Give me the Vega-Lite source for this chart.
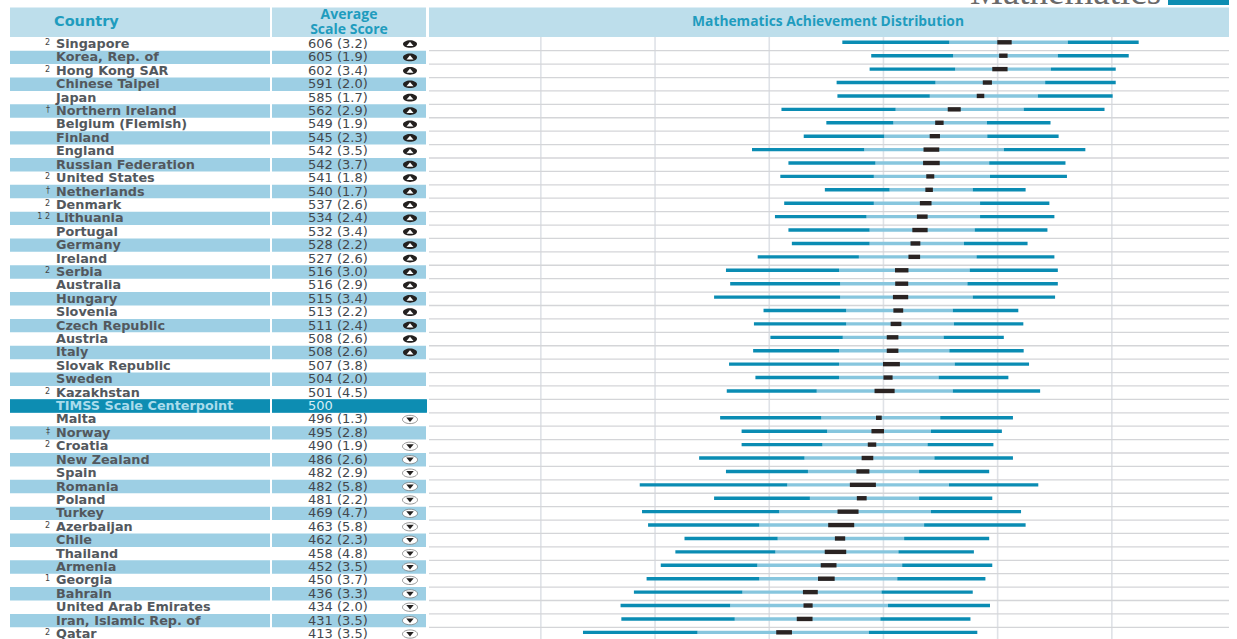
{
"$schema":"https://vega.github.io/schema/vega-lite/v6.json",
"width":1237,"height":639,"autosize":"none","padding":0,"background":"white",
"config":{"view":{"stroke":null},"axis":{"disable":true},"legend":{"disable":true}},
"datasets":{"rows":[
{"rank":0,"country":"Singapore","note":"2","score":"606 (3.2)","arrow":"up","p5":464,"p25":557.7,"lo":599.7,"hi":612.3,"p75":661.4,"p95":723.5},
{"rank":1,"country":"Korea, Rep. of","note":"","score":"605 (1.9)","arrow":"up","p5":489.3,"p25":561,"lo":601.3,"hi":608.7,"p75":652.7,"p95":714.8},
{"rank":2,"country":"Hong Kong SAR","note":"2","score":"602 (3.4)","arrow":"up","p5":487.9,"p25":562.8,"lo":595.3,"hi":608.7,"p75":646.6,"p95":703.4},
{"rank":3,"country":"Chinese Taipei","note":"","score":"591 (2.0)","arrow":"up","p5":459,"p25":545.6,"lo":587,"hi":595,"p75":641.6,"p95":703.4},
{"rank":4,"country":"Japan","note":"","score":"585 (1.7)","arrow":"up","p5":459.7,"p25":540.6,"lo":581.7,"hi":588.3,"p75":635.2,"p95":700.7},
{"rank":5,"country":"Northern Ireland","note":"†","score":"562 (2.9)","arrow":"up","p5":410.7,"p25":510.7,"lo":556.3,"hi":567.7,"p75":622.8,"p95":693.6},
{"rank":6,"country":"Belgium (Flemish)","note":"","score":"549 (1.9)","arrow":"up","p5":450,"p25":508.7,"lo":545.3,"hi":552.7,"p75":590.6,"p95":646.3},
{"rank":7,"country":"Finland","note":"","score":"545 (2.3)","arrow":"up","p5":430.2,"p25":500.7,"lo":540.5,"hi":549.5,"p75":590.9,"p95":653.4},
{"rank":8,"country":"England","note":"","score":"542 (3.5)","arrow":"up","p5":384.9,"p25":483.2,"lo":535.1,"hi":548.9,"p75":605.4,"p95":676.8},
{"rank":9,"country":"Russian Federation","note":"","score":"542 (3.7)","arrow":"up","p5":416.8,"p25":493,"lo":534.7,"hi":549.3,"p75":592.6,"p95":659.4},
{"rank":10,"country":"United States","note":"2","score":"541 (1.8)","arrow":"up","p5":409.7,"p25":491.6,"lo":537.5,"hi":544.5,"p75":593.3,"p95":660.7},
{"rank":11,"country":"Netherlands","note":"†","score":"540 (1.7)","arrow":"up","p5":448.7,"p25":505.4,"lo":536.7,"hi":543.3,"p75":578.2,"p95":624.5},
{"rank":12,"country":"Denmark","note":"2","score":"537 (2.6)","arrow":"up","p5":413.1,"p25":491.6,"lo":531.9,"hi":542.1,"p75":584.6,"p95":645.3},
{"rank":13,"country":"Lithuania","note":"1 2","score":"534 (2.4)","arrow":"up","p5":405,"p25":485.2,"lo":529.3,"hi":538.7,"p75":584.6,"p95":649.7},
{"rank":14,"country":"Portugal","note":"","score":"532 (3.4)","arrow":"up","p5":416.8,"p25":487.9,"lo":525.3,"hi":538.7,"p75":579.9,"p95":643.6},
{"rank":15,"country":"Germany","note":"","score":"528 (2.2)","arrow":"up","p5":419.8,"p25":487.9,"lo":523.7,"hi":532.3,"p75":570.5,"p95":626.2},
{"rank":16,"country":"Ireland","note":"","score":"527 (2.6)","arrow":"up","p5":389.9,"p25":478.5,"lo":521.9,"hi":532.1,"p75":581.5,"p95":649.7},
{"rank":17,"country":"Serbia","note":"2","score":"516 (3.0)","arrow":"up","p5":362.1,"p25":461.1,"lo":510.1,"hi":521.9,"p75":575.5,"p95":652.7},
{"rank":18,"country":"Australia","note":"","score":"516 (2.9)","arrow":"up","p5":365.8,"p25":462.1,"lo":510.3,"hi":521.7,"p75":573.5,"p95":652.7},
{"rank":19,"country":"Hungary","note":"","score":"515 (3.4)","arrow":"up","p5":351.7,"p25":462.1,"lo":508.3,"hi":521.7,"p75":578.2,"p95":650.3},
{"rank":20,"country":"Slovenia","note":"","score":"513 (2.2)","arrow":"up","p5":395,"p25":467.4,"lo":508.7,"hi":517.3,"p75":560.7,"p95":618.1},
{"rank":21,"country":"Czech Republic","note":"","score":"511 (2.4)","arrow":"up","p5":386.6,"p25":467.4,"lo":506.3,"hi":515.7,"p75":561.7,"p95":622.5},
{"rank":22,"country":"Austria","note":"","score":"508 (2.6)","arrow":"up","p5":401,"p25":464.4,"lo":502.9,"hi":513.1,"p75":552.7,"p95":605.4},
{"rank":23,"country":"Italy","note":"","score":"508 (2.6)","arrow":"up","p5":385.9,"p25":461.1,"lo":502.9,"hi":513.1,"p75":557.7,"p95":622.8},
{"rank":24,"country":"Slovak Republic","note":"","score":"507 (3.8)","arrow":"none","p5":364.8,"p25":461.1,"lo":499.6,"hi":514.4,"p75":562.4,"p95":627.5},
{"rank":25,"country":"Sweden","note":"","score":"504 (2.0)","arrow":"none","p5":387.9,"p25":461.1,"lo":500,"hi":508,"p75":548.3,"p95":609.4},
{"rank":26,"country":"Kazakhstan","note":"2","score":"501 (4.5)","arrow":"none","p5":362.8,"p25":441.6,"lo":492.2,"hi":509.8,"p75":560.7,"p95":637.2},
{"rank":27,"country":"TIMSS Scale Centerpoint","note":"","score":"500","arrow":"none"},
{"rank":28,"country":"Malta","note":"","score":"496 (1.3)","arrow":"down","p5":357,"p25":445.6,"lo":493.5,"hi":498.5,"p75":549.7,"p95":613.4},
{"rank":29,"country":"Norway","note":"‡","score":"495 (2.8)","arrow":"none","p5":375.8,"p25":450.7,"lo":489.5,"hi":500.5,"p75":541.6,"p95":603.7},
{"rank":30,"country":"Croatia","note":"2","score":"490 (1.9)","arrow":"down","p5":375.8,"p25":446.6,"lo":486.3,"hi":493.7,"p75":538.6,"p95":596.3},
{"rank":31,"country":"New Zealand","note":"","score":"486 (2.6)","arrow":"down","p5":338.6,"p25":430.9,"lo":480.9,"hi":491.1,"p75":544.6,"p95":613.4},
{"rank":32,"country":"Spain","note":"","score":"482 (2.9)","arrow":"down","p5":362.1,"p25":433.9,"lo":476.3,"hi":487.7,"p75":531.2,"p95":592.6},
{"rank":33,"country":"Romania","note":"","score":"482 (5.8)","arrow":"down","p5":286.6,"p25":415.8,"lo":470.6,"hi":493.4,"p75":557.4,"p95":635.6},
{"rank":34,"country":"Poland","note":"","score":"481 (2.2)","arrow":"down","p5":351.7,"p25":435.6,"lo":476.7,"hi":485.3,"p75":531.2,"p95":595.3},
{"rank":35,"country":"Turkey","note":"","score":"469 (4.7)","arrow":"down","p5":288.6,"p25":408.7,"lo":459.8,"hi":478.2,"p75":541.6,"p95":620.5},
{"rank":36,"country":"Azerbaijan","note":"2","score":"463 (5.8)","arrow":"down","p5":293.9,"p25":391.3,"lo":451.6,"hi":474.4,"p75":535.6,"p95":624.5},
{"rank":37,"country":"Chile","note":"","score":"462 (2.3)","arrow":"down","p5":325.8,"p25":407.4,"lo":457.5,"hi":466.5,"p75":518.1,"p95":592.6},
{"rank":38,"country":"Thailand","note":"","score":"458 (4.8)","arrow":"down","p5":317.8,"p25":405.4,"lo":448.6,"hi":467.4,"p75":513.1,"p95":579.2},
{"rank":39,"country":"Armenia","note":"","score":"452 (3.5)","arrow":"down","p5":305,"p25":389.6,"lo":445.1,"hi":458.9,"p75":516.4,"p95":595.3},
{"rank":40,"country":"Georgia","note":"1","score":"450 (3.7)","arrow":"down","p5":292.6,"p25":391.3,"lo":442.7,"hi":457.3,"p75":512.1,"p95":589.3},
{"rank":41,"country":"Bahrain","note":"","score":"436 (3.3)","arrow":"down","p5":281.5,"p25":376.5,"lo":429.5,"hi":442.5,"p75":498.3,"p95":578.2},
{"rank":42,"country":"United Arab Emirates","note":"","score":"434 (2.0)","arrow":"down","p5":269.8,"p25":365.8,"lo":430,"hi":438,"p75":504,"p95":593.3},
{"rank":43,"country":"Iran, Islamic Rep. of","note":"","score":"431 (3.5)","arrow":"down","p5":270.5,"p25":369.8,"lo":424.1,"hi":437.9,"p75":497.3,"p95":576.2},
{"rank":44,"country":"Qatar","note":"2","score":"413 (3.5)","arrow":"down","p5":236.9,"p25":337.2,"lo":406.1,"hi":419.9,"p75":487.2,"p95":582.2}
]},
"resolve":{"scale":{"x":"independent","y":"independent"}},
"layer":[
{"data":{"values":[{"tick":200},{"tick":300},{"tick":400},{"tick":500},{"tick":600},{"tick":700}]},
 "mark":{"type":"rule","color":"#dfe2e7","strokeWidth":1.6},
 "encoding":{
  "x":{"field":"tick","type":"quantitative","scale":{"domain":[-273.6,809.6],"range":[0,1237],"nice":false,"zero":false}},
  "y":{"datum":37,"type":"quantitative","scale":{"domain":[0,639],"range":[0,639],"nice":false,"zero":false}},
  "y2":{"datum":639}}},
{"data":{"name":"rows"},
 "encoding":{"y":{"field":"country","type":"nominal","scale":{"domain":["Singapore","Korea, Rep. of","Hong Kong SAR","Chinese Taipei","Japan","Northern Ireland","Belgium (Flemish)","Finland","England","Russian Federation","United States","Netherlands","Denmark","Lithuania","Portugal","Germany","Ireland","Serbia","Australia","Hungary","Slovenia","Czech Republic","Austria","Italy","Slovak Republic","Sweden","Kazakhstan","TIMSS Scale Centerpoint","Malta","Norway","Croatia","New Zealand","Spain","Romania","Poland","Turkey","Azerbaijan","Chile","Thailand","Armenia","Georgia","Bahrain","United Arab Emirates","Iran, Islamic Rep. of","Qatar"],"range":[37.3,640.75],"paddingInner":0,"paddingOuter":0}}},
 "layer":[
  {"mark":{"type":"rule","color":"#d4d5d8","strokeWidth":1.3,"yOffset":6.7},
   "encoding":{"x":{"datum":429,"type":"quantitative","scale":{"domain":[0,1237],"range":[0,1237],"nice":false,"zero":false}},"x2":{"datum":1229}}},
  {"transform":[{"filter":"datum.rank % 2 == 1"}],"mark":{"type":"rect","color":"#9dcfe4"},
   "encoding":{"x":{"datum":10,"type":"quantitative","scale":{"domain":[0,1237],"range":[0,1237],"nice":false,"zero":false}},"x2":{"datum":270}}},
  {"transform":[{"filter":"datum.rank % 2 == 1"}],"mark":{"type":"rect","color":"#9dcfe4"},
   "encoding":{"x":{"datum":272,"type":"quantitative","scale":{"domain":[0,1237],"range":[0,1237],"nice":false,"zero":false}},"x2":{"datum":426}}},
  {"transform":[{"filter":"datum.rank == 27"}],"mark":{"type":"rect","color":"#0d8db2"},
   "encoding":{"x":{"datum":10,"type":"quantitative","scale":{"domain":[0,1237],"range":[0,1237],"nice":false,"zero":false}},"x2":{"datum":270}}},
  {"transform":[{"filter":"datum.rank == 27"}],"mark":{"type":"rect","color":"#0d8db2"},
   "encoding":{"x":{"datum":272,"type":"quantitative","scale":{"domain":[0,1237],"range":[0,1237],"nice":false,"zero":false}},"x2":{"datum":427}}},
  {"transform":[{"filter":"datum.rank != 27"}],"mark":{"type":"text","align":"left","baseline":"middle","font":"DejaVu Sans","fontWeight":"bold","fontSize":12.8,"color":"#53585d"},
   "encoding":{"x":{"datum":56,"type":"quantitative","scale":{"domain":[0,1237],"range":[0,1237],"nice":false,"zero":false}},"text":{"field":"country"}}},
  {"transform":[{"filter":"datum.rank == 27"}],"mark":{"type":"text","align":"left","baseline":"middle","font":"DejaVu Sans","fontWeight":"bold","fontSize":12.8,"color":"#a9dcec"},
   "encoding":{"x":{"datum":56,"type":"quantitative","scale":{"domain":[0,1237],"range":[0,1237],"nice":false,"zero":false}},"text":{"field":"country"}}},
  {"mark":{"type":"text","align":"right","baseline":"middle","font":"DejaVu Sans","fontSize":8,"color":"#444","dy":-1},
   "encoding":{"x":{"datum":50,"type":"quantitative","scale":{"domain":[0,1237],"range":[0,1237],"nice":false,"zero":false}},"text":{"field":"note"}}},
  {"transform":[{"filter":"datum.rank != 27"}],"mark":{"type":"text","align":"left","baseline":"middle","font":"DejaVu Sans","fontSize":13,"color":"#43484d"},
   "encoding":{"x":{"datum":308,"type":"quantitative","scale":{"domain":[0,1237],"range":[0,1237],"nice":false,"zero":false}},"text":{"field":"score"}}},
  {"transform":[{"filter":"datum.rank == 27"}],"mark":{"type":"text","align":"left","baseline":"middle","font":"DejaVu Sans","fontSize":13,"color":"#d5eef6"},
   "encoding":{"x":{"datum":308,"type":"quantitative","scale":{"domain":[0,1237],"range":[0,1237],"nice":false,"zero":false}},"text":{"field":"score"}}},
  {"transform":[{"filter":"datum.arrow == 'up'"}],"mark":{"type":"point","filled":true,"opacity":1,"color":"#23201f","shape":"M-1,0A1,0.55 0 1 1 1,0A1,0.55 0 1 1 -1,0Z","size":196},
   "encoding":{"x":{"datum":410,"type":"quantitative","scale":{"domain":[0,1237],"range":[0,1237],"nice":false,"zero":false}}}},
  {"transform":[{"filter":"datum.arrow == 'up'"}],"mark":{"type":"point","filled":true,"opacity":1,"color":"#ffffff","shape":"M-0.5,0.28L0,-0.32L0.5,0.28Z","size":196},
   "encoding":{"x":{"datum":410,"type":"quantitative","scale":{"domain":[0,1237],"range":[0,1237],"nice":false,"zero":false}}}},
  {"transform":[{"filter":"datum.arrow == 'down'"}],"mark":{"type":"point","filled":true,"opacity":1,"color":"#ffffff","stroke":"#6b6b6b","strokeWidth":0.7,"shape":"M-1,0A1,0.55 0 1 1 1,0A1,0.55 0 1 1 -1,0Z","size":225},
   "encoding":{"x":{"datum":410,"type":"quantitative","scale":{"domain":[0,1237],"range":[0,1237],"nice":false,"zero":false}}}},
  {"transform":[{"filter":"datum.arrow == 'down'"}],"mark":{"type":"point","filled":true,"opacity":1,"color":"#23201f","shape":"M-0.5,-0.28L0,0.32L0.5,-0.28Z","size":225},
   "encoding":{"x":{"datum":410,"type":"quantitative","scale":{"domain":[0,1237],"range":[0,1237],"nice":false,"zero":false}}}}
 ]},
{"data":{"name":"rows"},
 "transform":[{"filter":"datum.p5 != null"}],
 "encoding":{"y":{"field":"country","type":"nominal","scale":{"domain":["Singapore","Korea, Rep. of","Hong Kong SAR","Chinese Taipei","Japan","Northern Ireland","Belgium (Flemish)","Finland","England","Russian Federation","United States","Netherlands","Denmark","Lithuania","Portugal","Germany","Ireland","Serbia","Australia","Hungary","Slovenia","Czech Republic","Austria","Italy","Slovak Republic","Sweden","Kazakhstan","TIMSS Scale Centerpoint","Malta","Norway","Croatia","New Zealand","Spain","Romania","Poland","Turkey","Azerbaijan","Chile","Thailand","Armenia","Georgia","Bahrain","United Arab Emirates","Iran, Islamic Rep. of","Qatar"],"range":[37.3,640.75],"paddingInner":0,"paddingOuter":0}}},
 "layer":[
  {"mark":{"type":"bar","size":3.4,"color":"#87c6de","yOffset":-1.7},
   "encoding":{"x":{"field":"p25","type":"quantitative","scale":{"domain":[-273.6,809.6],"range":[0,1237],"nice":false,"zero":false}},"x2":{"field":"p75"}}},
  {"mark":{"type":"bar","size":3.4,"color":"#0a8cb3","yOffset":-1.7},
   "encoding":{"x":{"field":"p5","type":"quantitative","scale":{"domain":[-273.6,809.6],"range":[0,1237],"nice":false,"zero":false}},"x2":{"field":"p25"}}},
  {"mark":{"type":"bar","size":3.4,"color":"#0a8cb3","yOffset":-1.7},
   "encoding":{"x":{"field":"p75","type":"quantitative","scale":{"domain":[-273.6,809.6],"range":[0,1237],"nice":false,"zero":false}},"x2":{"field":"p95"}}},
  {"mark":{"type":"bar","size":4.4,"color":"#2a2322","yOffset":-1.7},
   "encoding":{"x":{"field":"lo","type":"quantitative","scale":{"domain":[-273.6,809.6],"range":[0,1237],"nice":false,"zero":false}},"x2":{"field":"hi"}}}
 ]},
{"encoding":{"y":{"datum":7.5,"type":"quantitative","scale":{"domain":[0,639],"range":[0,639],"nice":false,"zero":false}}},
 "data":{"values":[{"title":"Country"}]},
 "layer":[
  {"mark":{"type":"rect","color":"#bddeeb"},"encoding":{"x":{"datum":10,"type":"quantitative","scale":{"domain":[0,1237],"range":[0,1237],"nice":false,"zero":false}},"x2":{"datum":270},"y2":{"datum":37}}},
  {"mark":{"type":"rect","color":"#bddeeb"},"encoding":{"x":{"datum":272,"type":"quantitative","scale":{"domain":[0,1237],"range":[0,1237],"nice":false,"zero":false}},"x2":{"datum":426},"y2":{"datum":37}}},
  {"mark":{"type":"rect","color":"#bddeeb"},"encoding":{"x":{"datum":429,"type":"quantitative","scale":{"domain":[0,1237],"range":[0,1237],"nice":false,"zero":false}},"x2":{"datum":1229},"y2":{"datum":37}}},
  {"mark":{"type":"rect","color":"#0d8db2"},"encoding":{"x":{"datum":1168,"type":"quantitative","scale":{"domain":[0,1237],"range":[0,1237],"nice":false,"zero":false}},"x2":{"datum":1229},"y":{"datum":0,"type":"quantitative","scale":{"domain":[0,639],"range":[0,639],"nice":false,"zero":false}},"y2":{"datum":5}}},
  {"data":{"values":[{"label":"Country"}]},"mark":{"type":"text","align":"left","baseline":"middle","font":"DejaVu Sans","fontWeight":"bold","fontSize":14.5,"color":"#1f9cbe"},
   "encoding":{"x":{"datum":54,"type":"quantitative","scale":{"domain":[0,1237],"range":[0,1237],"nice":false,"zero":false}},"y":{"datum":21.5,"type":"quantitative","scale":{"domain":[0,639],"range":[0,639],"nice":false,"zero":false}},"text":{"field":"label"}}},
  {"data":{"values":[{"label":"Average"}]},"mark":{"type":"text","align":"center","baseline":"middle","font":"Open Sans","fontWeight":"bold","fontSize":14,"color":"#1f9cbe"},
   "encoding":{"x":{"datum":349,"type":"quantitative","scale":{"domain":[0,1237],"range":[0,1237],"nice":false,"zero":false}},"y":{"datum":15,"type":"quantitative","scale":{"domain":[0,639],"range":[0,639],"nice":false,"zero":false}},"text":{"field":"label"}}},
  {"data":{"values":[{"label":"Scale Score"}]},"mark":{"type":"text","align":"center","baseline":"middle","font":"Open Sans","fontWeight":"bold","fontSize":14,"color":"#1f9cbe"},
   "encoding":{"x":{"datum":349,"type":"quantitative","scale":{"domain":[0,1237],"range":[0,1237],"nice":false,"zero":false}},"y":{"datum":30,"type":"quantitative","scale":{"domain":[0,639],"range":[0,639],"nice":false,"zero":false}},"text":{"field":"label"}}},
  {"data":{"values":[{"label":"Mathematics Achievement Distribution"}]},"mark":{"type":"text","align":"center","baseline":"middle","font":"Open Sans","fontWeight":"bold","fontSize":13.8,"color":"#1f9cbe"},
   "encoding":{"x":{"datum":828,"type":"quantitative","scale":{"domain":[0,1237],"range":[0,1237],"nice":false,"zero":false}},"y":{"datum":21.5,"type":"quantitative","scale":{"domain":[0,639],"range":[0,639],"nice":false,"zero":false}},"text":{"field":"label"}}},
  {"data":{"values":[{"label":"Mathematics"}]},"mark":{"type":"text","align":"left","baseline":"alphabetic","font":"Liberation Serif","fontSize":37,"color":"#6a6a6a"},
   "encoding":{"x":{"datum":970,"type":"quantitative","scale":{"domain":[0,1237],"range":[0,1237],"nice":false,"zero":false}},"y":{"datum":3.5,"type":"quantitative","scale":{"domain":[0,639],"range":[0,639],"nice":false,"zero":false}},"text":{"field":"label"}}}
 ]}
]
}
